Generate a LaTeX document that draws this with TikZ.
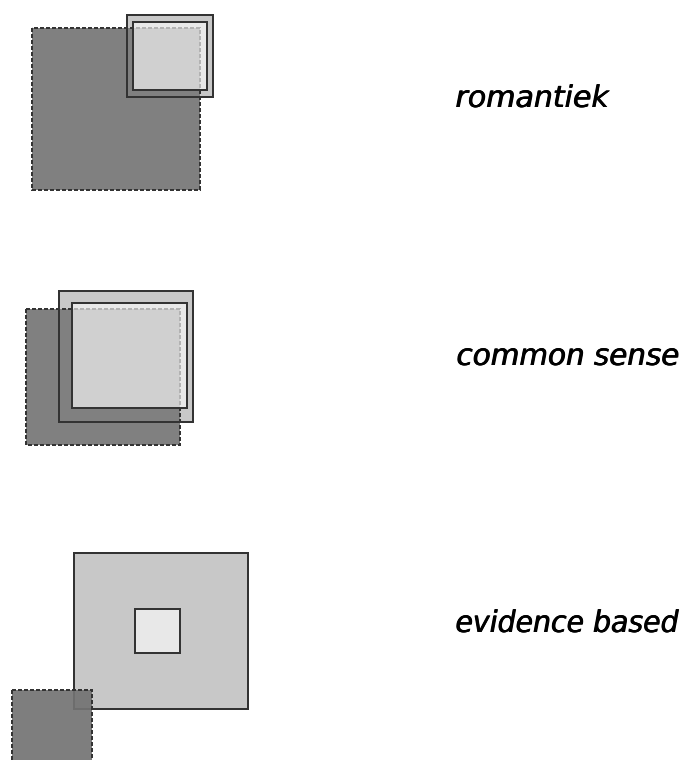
\documentclass[tikz,border=0pt]{standalone}
\usepackage{fontspec}
\newfontfamily\lab{DejaVu Sans}
\newcommand\heavytext[1]{\rlap{#1}\hspace{0.45pt}\rlap{#1}\hspace{0.45pt}#1}
\definecolor{darkfill}{HTML}{808080}
\definecolor{outerfill}{HTML}{C8C8C8}
\definecolor{innerfill}{HTML}{E8E8E8}
\definecolor{mixfill}{HTML}{D0D0D0}
\definecolor{edge}{HTML}{333333}
\tikzset{
  darksq/.style={fill=darkfill, draw=edge, line width=1.2pt, dash pattern=on 4pt off 2pt},
  outersq/.style={fill=outerfill},
  solidedge/.style={draw=edge, line width=1.1pt},
  innersq/.style={fill=innerfill},
  mixsq/.style={fill=mixfill, draw=black!30, line width=1.1pt, dash pattern=on 4pt off 2pt},
  label/.style={anchor=base west, inner sep=0pt, font=\lab\itshape\fontsize{30}{36}\selectfont}
}
\begin{document}
\begin{tikzpicture}[x=1pt,y=-1pt]
\useasboundingbox (0,0) rectangle (685,760);
\begin{scope}
\clip (0,0) rectangle (685,760);
% ---- panel 1: romantiek
\fill[outersq] (127,15) rectangle (213,97);
\path[darksq] (32,28) rectangle (200,190);
\path[solidedge] (127,15) rectangle (213,97);
\fill[innersq] (133,22) rectangle (207,90);
\begin{scope}
  \clip (133,22) rectangle (207,90);
  \path[mixsq] (32,28) rectangle (200,190);
\end{scope}
\path[solidedge] (133,22) rectangle (207,90);
% ---- panel 2: common sense
\fill[outersq] (59,291) rectangle (193,422);
\path[darksq] (26,309) rectangle (180,445);
\path[solidedge] (59,291) rectangle (193,422);
\fill[innersq] (72,303) rectangle (187,408);
\begin{scope}
  \clip (72,303) rectangle (187,408);
  \path[mixsq] (26,309) rectangle (180,445);
\end{scope}
\path[solidedge] (72,303) rectangle (187,408);
% ---- panel 3: evidence based
\path[outersq, solidedge] (74,553) rectangle (248,709);
\path[innersq, solidedge] (135,609) rectangle (180,653);
\path[darksq, fill=black!55, fill opacity=0.92] (12,690) rectangle (92,765);
\end{scope}
% ---- labels
\node[label] (l1) at (455,107) {\heavytext{romantiek}};
\node[label] (l2) at (456,365) {\scalebox{0.98}[1]{\heavytext{common sense}}};
\node[label] (l3) at (455,632) {\scalebox{0.945}[1]{\heavytext{evidence based}}};
\end{tikzpicture}
\end{document}
